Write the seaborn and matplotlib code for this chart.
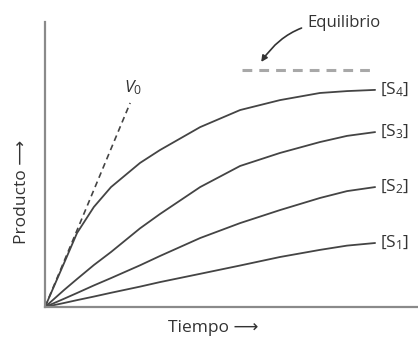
import numpy as np
import pandas as pd
import matplotlib
matplotlib.use("Agg")
import matplotlib.pyplot as plt
import seaborn as sns

# Valores (tiempo y producto en unidades arbitrarias)
tiempo = [0, 0.58, 0.97, 1.48, 2.0, 2.88, 3.48, 4.7, 5.91, 7.12, 8.33, 9.15, 10]
s4 = [0, 18.6, 31.2, 42.2, 50.6, 60.8, 66.2, 75.9, 83.1, 87.3, 90.3, 91.1, 91.6]
s3 = [0, 7.2, 11.8, 17.7, 23.2, 33.2, 39.2, 50.6, 59.5, 65.0, 69.6, 72.2, 73.8]
s2 = [0, 3.5, 5.9, 9.1, 12.2, 17.6, 21.5, 29.1, 35.4, 40.9, 46.0, 48.9, 50.6]
s1 = [0, 1.7, 2.9, 4.4, 6.0, 8.6, 10.5, 14.0, 17.5, 21.1, 24.1, 25.9, 27.0]
etiquetas = ["[S$_4$]", "[S$_3$]", "[S$_2$]", "[S$_1$]"]

v0_t = [0, 2.58]
v0_p = [0, 86.1]
equilibrio = 100
equilibrio_t = [5.97, 10]

df = pd.DataFrame({
    "tiempo": tiempo * 4,
    "producto": s4 + s3 + s2 + s1,
    "serie": sum([[e] * len(tiempo) for e in etiquetas], []),
})

sns.set_style("white")
plt.rcParams["font.family"] = ["Open Sans", "DejaVu Sans"]
plt.rcParams["mathtext.fontset"] = "custom"
plt.rcParams["mathtext.rm"] = "Open Sans"
plt.rcParams["mathtext.it"] = "Open Sans:italic"

fig = plt.figure(figsize=(4.18, 3.38), dpi=100)
ax = fig.add_axes([45 / 418, 31 / 338, 373 / 418, 285 / 338])

gris = "#333333"
sns.lineplot(data=df, x="tiempo", y="producto", units="serie", estimator=None,
             color="#444444", linewidth=1.3, ax=ax, legend=False,
             solid_joinstyle="round", solid_capstyle="round")

# velocidad inicial V0
sns.lineplot(x=v0_t, y=v0_p, color="#444444", linewidth=1.2, linestyle=(0, (3.5, 2.5)), ax=ax)

# nivel de equilibrio
sns.lineplot(x=equilibrio_t, y=[equilibrio] * 2, color="#a8a8a8", linewidth=2.2,
             linestyle=(0, (3.2, 2.3)), ax=ax)

# etiquetas de las curvas
finales = [s4[-1], s3[-1], s2[-1], s1[-1]]
for etq, yf in zip(etiquetas, finales):
    ax.text(tiempo[-1] + 0.15, yf, etq, fontsize=12.5, color=gris, va="center", ha="left")

ax.text(v0_t[1] + 0.1, v0_p[1] + 2.5, "$V_0$", fontsize=12.5, color=gris, ha="center", va="bottom")

ax.annotate("Equilibrio", xy=(6.55, 103.4), xytext=(7.95, 119.8),
            fontsize=12, color=gris, ha="left", va="center", annotation_clip=False,
            arrowprops=dict(arrowstyle="-|>", color=gris, lw=1.2,
                            mutation_scale=9, shrinkA=2, shrinkB=0,
                            connectionstyle="arc3,rad=0.3"))

ax.set_xlim(0, 11.3)
ax.set_ylim(0, 120.25)
ax.set_xticks([])
ax.set_yticks([])
ax.set_xlabel("")
ax.set_ylabel("")
for lado in ["top", "right"]:
    ax.spines[lado].set_visible(False)
for lado in ["left", "bottom"]:
    ax.spines[lado].set_color("#8a8a8a")
    ax.spines[lado].set_linewidth(1.6)

fig.text(213 / 418, 1 - 328 / 338, "Tiempo ⟶", fontsize=12.5, color=gris,
         ha="center", va="center", family=["Open Sans", "DejaVu Sans"])
fig.text(22 / 418, 1 - 192 / 338, "Producto ⟶", fontsize=12.5, color=gris, ha="center",
         va="center", rotation=90, family=["Open Sans", "DejaVu Sans"])

fig.savefig("out.png", dpi=100)
